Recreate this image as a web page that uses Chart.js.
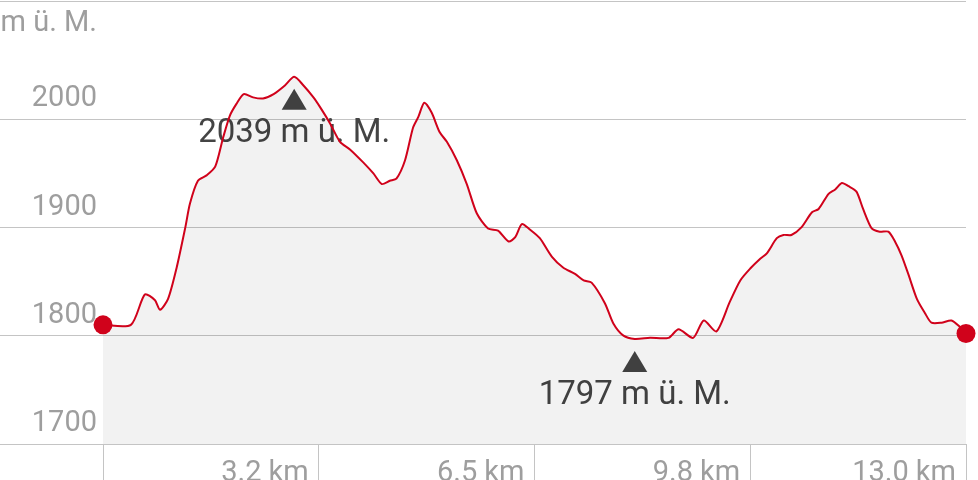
<!DOCTYPE html>
<html>
<head>
<meta charset="utf-8">
<script src="https://cdn.jsdelivr.net/npm/chart.js@4.4.1/dist/chart.umd.min.js"></script>
<style>
  html, body { margin: 0; padding: 0; background: #fff; }
</style>
</head>
<body>
<canvas id="profil" width="978" height="480"></canvas>
<script>
// Distanz in km und Höhe in m ü. M.
const distanzen = [0.00, 0.42, 0.63, 0.78, 0.86, 0.98, 1.11, 1.24, 1.31, 1.43, 1.56, 1.69, 1.81, 1.91, 2.01, 2.12, 2.26, 2.41, 2.57, 2.74, 2.88, 3.02, 3.17, 3.27, 3.42, 3.57, 3.72, 3.92, 4.07, 4.20, 4.32, 4.42, 4.55, 4.67, 4.75, 4.84, 4.95, 5.07, 5.18, 5.33, 5.48, 5.63, 5.80, 5.95, 6.11, 6.21, 6.31, 6.43, 6.58, 6.76, 6.93, 7.11, 7.24, 7.36, 7.56, 7.69, 7.84, 8.01, 8.24, 8.52, 8.67, 8.89, 9.05, 9.24, 9.44, 9.60, 9.75, 9.90, 10.00, 10.15, 10.25, 10.37, 10.52, 10.68, 10.78, 10.93, 11.03, 11.13, 11.23, 11.35, 11.45, 11.58, 11.70, 11.83, 11.93, 12.03, 12.13, 12.26, 12.38, 12.48, 12.63, 12.78, 12.91, 13.00];
const hoehen = [1810, 1810, 1838, 1833, 1824, 1834, 1863, 1900, 1922, 1943, 1948, 1956, 1983, 2003, 2014, 2023, 2020, 2019, 2023, 2031, 2039, 2031, 2020, 2011, 1996, 1979, 1972, 1960, 1950, 1940, 1943, 1945, 1962, 1992, 2002, 2015, 2006, 1988, 1979, 1962, 1940, 1913, 1899, 1897, 1887, 1891, 1903, 1898, 1890, 1873, 1863, 1857, 1851, 1849, 1830, 1811, 1800, 1797, 1798, 1798, 1806, 1798, 1814, 1804, 1831, 1851, 1862, 1871, 1876, 1890, 1893, 1893, 1900, 1914, 1917, 1931, 1935, 1941, 1938, 1933, 1917, 1899, 1896, 1896, 1887, 1874, 1857, 1834, 1821, 1812, 1812, 1814, 1808, 1802];

const yTicks = [1700, 1800, 1900, 2000, 2109];
const yTickLabels = ["1700", "1800", "1900", "2000", ""];
const xTicks = [0, 3.25, 6.5, 9.75, 13.0];
const xTickLabels = ["", "3.2 km", "6.5 km", "9.8 km", "13.0 km"];
const einheit = "m ü. M.";

const rot = "#d0021b";
const gitter = "#c4c4c4";
const grau = "#9e9e9e";

// Indizes von höchstem und tiefstem Punkt
const maxIdx = hoehen.indexOf(Math.max(...hoehen));
const minIdx = hoehen.indexOf(Math.min(...hoehen));

// Dreiecke + Beschriftung für Max/Min, y-Beschriftung über den Gitterlinien
const markerPlugin = {
  id: "marker",
  beforeDatasetsDraw(chart) {
    const { ctx, scales } = chart;
    ctx.save();
    [maxIdx, minIdx].forEach((idx) => {
      const px = scales.x.getPixelForValue(distanzen[idx]);
      const py = scales.y.getPixelForValue(hoehen[idx]);
      ctx.fillStyle = "#444";
      ctx.beginPath();
      ctx.moveTo(px, py + 12);
      ctx.lineTo(px + 12.5, py + 33);
      ctx.lineTo(px - 12.5, py + 33);
      ctx.closePath();
      ctx.fill();
      ctx.font = "33px Roboto";
      ctx.textAlign = "center";
      ctx.textBaseline = "middle";
      ctx.fillText(hoehen[idx] + " " + einheit, px, py + 57);
    });
    ctx.restore();
  },
  afterDraw(chart) {
    const { ctx, scales } = chart;
    const rechts = scales.x.getPixelForValue(0) - 6;
    ctx.save();
    ctx.font = "29px Roboto";
    ctx.fillStyle = grau;
    ctx.textAlign = "right";
    ctx.textBaseline = "middle";
    yTicks.forEach((v, i) => {
      if (yTickLabels[i]) ctx.fillText(yTickLabels[i], rechts, scales.y.getPixelForValue(v) - 20);
    });
    ctx.fillText(einheit, rechts, 24);
    ctx.restore();
  },
};

const ctx = document.getElementById("profil").getContext("2d");

const config = {
  type: "line",
  data: {
    datasets: [
      {
        data: distanzen.map((d, i) => ({ x: d, y: hoehen[i] })),
        borderColor: rot,
        borderWidth: 2,
        backgroundColor: "rgba(0,0,0,0.05)",
        fill: "start",
        tension: 0.25,
        clip: false,
        pointRadius: (c) => (c.dataIndex === 0 || c.dataIndex === hoehen.length - 1 ? 9.5 : 0),
        pointBackgroundColor: rot,
        pointBorderWidth: 0,
      },
    ],
  },
  options: {
    responsive: false,
    animation: false,
    devicePixelRatio: 1,
    layout: { autoPadding: false, padding: { left: 0, right: 12, top: 1, bottom: 0 } },
    plugins: { legend: { display: false }, tooltip: { enabled: false } },
    scales: {
      x: {
        type: "linear",
        min: -1.5516,
        max: 13.0,
        afterBuildTicks: (s) => { s.ticks = xTicks.map((v) => ({ value: v })); },
        afterFit: (s) => { s.height = 36; },
        grid: { drawOnChartArea: false, drawTicks: true, tickLength: 36, color: gitter },
        border: { display: true, color: gitter },
        ticks: {
          callback: (v, i) => xTickLabels[i],
          align: "end",
          labelOffset: -10,
          padding: -24,
          maxRotation: 0,
          autoSkip: false,
          color: grau,
          font: { family: "Roboto", size: 29 },
        },
      },
      y: {
        min: 1700,
        max: 2109,
        afterBuildTicks: (s) => { s.ticks = yTicks.map((v) => ({ value: v })); },
        afterFit: (s) => { s.width = 0; },
        grid: { drawTicks: false, color: gitter },
        border: { display: false },
        ticks: { display: false },
      },
    },
  },
  plugins: [markerPlugin],
};

const profilChart = new Chart(ctx, config);
</script>
</body>
</html>
